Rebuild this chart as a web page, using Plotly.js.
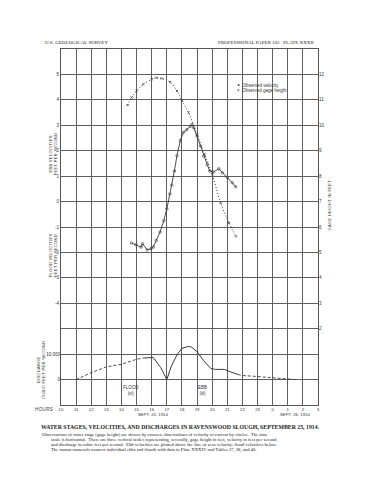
<!DOCTYPE html>
<html>
<head>
<meta charset="utf-8">
<script src="https://cdn.plot.ly/plotly-3.0.1.min.js"></script>
<style>html,body{margin:0;padding:0;background:#fff;}#chart{width:385px;height:500px;}</style>
</head>
<body>
<div id="chart"></div>
<script>
// ---- data (read from the plate) ----
const hourTicks = [10,11,12,13,14,15,16,17,18,19,20,21,22,23,24,25,26,27];
const hourLabels = ['10','11','12','13','14','15','16','17','18','19','20','21','22','23','0','1','2','3'];

// gage height, feet (crosses, dotted)
const gageHours = [14.4, 14.67, 15.0, 15.44, 16.0, 16.33, 16.67, 17.22, 17.67, 18.0, 18.44, 19.0, 19.5, 20.0, 20.56, 21.11, 21.58];
const gageFeet  = [10.79, 11.09, 11.35, 11.61, 11.81, 11.87, 11.84, 11.70, 11.35, 10.96, 10.5, 9.64, 8.85, 8.07, 6.95, 6.16, 5.63];

// velocity, feet per second (circles; ebb +, flood -)
const velHours = [14.67, 14.95, 15.3, 15.4, 15.7, 15.95, 16.1, 16.3, 16.55, 16.8, 17.0, 17.2, 17.33, 17.5, 17.67, 17.89, 18.11, 18.33, 18.56, 18.67, 18.78, 19.0, 19.22, 19.44, 19.67, 19.84, 20.07, 20.44, 20.67, 21.0, 21.33, 21.56];
const velFps   = [-1.63, -1.70, -1.79, -1.66, -1.90, -1.85, -1.79, -1.53, -1.2, -0.75, -0.29, 0.3, 0.65, 1.2, 1.8, 2.4, 2.73, 2.83, 2.96, 3.03, 2.90, 2.57, 2.18, 1.79, 1.46, 1.2, 1.16, 1.29, 1.13, 0.94, 0.74, 0.58];

// discharge, cubic feet per second
const dischargeEarlyHours = [11, 12, 13, 14, 15, 15.5];
const dischargeEarly      = [0, 2700, 5000, 6000, 8000, 8500];
const dischargeMainHours  = [15.5, 16.0, 16.1, 16.6, 17.0, 17.3, 17.7, 18.0, 18.45, 18.65, 19.0, 19.45, 19.9, 20.2, 20.8, 21.2, 21.7];
const dischargeMain       = [8500, 8670, 8670, 4670, 0, 5300, 10000, 12270, 13070, 12670, 10930, 7330, 4400, 4000, 4000, 3070, 2000];
const dischargeLateHours  = [21.7, 22, 23, 24, 25, 25.5];
const dischargeLate       = [2000, 1600, 1200, 670, 270, 0];

const velTickVals = [-8,-7,-6,-5,-4,-3,-2,-1,0,1,2,3,4,5,6];
const velTickText = ['','','','','-4','-3','-2','-1','0','1','2','3','4','5',''];
const gageTickVals = [2,3,4,5,6,7,8,9,10,11,12];

// ---- layout helpers ----
const L=61, R=318, T=49, B=405;
const px = x => (x-L)/(R-L);
const py = y => (B-y)/(B-T);
const INK = '#3a3a3a';
const SANS = 'Liberation Sans, Arial, sans-serif';
const SERIF = 'Liberation Serif, Times New Roman, serif';
const sp = s => s.split('').join('\u200A');

const traces = [
  {x: dischargeEarlyHours, y: dischargeEarly, yaxis:'y3', mode:'lines', line:{color:INK, width:0.9, dash:'3px,2px'}, hoverinfo:'skip'},
  {x: dischargeMainHours, y: dischargeMain, yaxis:'y3', mode:'lines', line:{color:INK, width:1}, hoverinfo:'skip'},
  {x: dischargeLateHours, y: dischargeLate, yaxis:'y3', mode:'lines', line:{color:INK, width:0.9, dash:'3px,2px'}, hoverinfo:'skip'},
  {x: gageHours, y: gageFeet, yaxis:'y2', mode:'lines+markers', line:{color:INK, width:1, dash:'1px,2px', shape:'spline'}, marker:{symbol:'x-thin-open', size:2.2, color:INK, line:{width:0.7, color:INK}}},
  {x: velHours, y: velFps, yaxis:'y', mode:'lines+markers', line:{color:INK, width:0.9}, marker:{symbol:'circle-open', size:2.5, color:INK, line:{width:0.6, color:INK}}}
];

const ann = [];
function A(text, x, y, o){ ann.push(Object.assign({text, x:px(x), y:py(y), xref:'paper', yref:'paper', xanchor:'center', yanchor:'middle', showarrow:false, font:{family:SANS, size:4.5, color:'#333'}}, o||{})); }

A('U.S. GEOLOGICAL SURVEY', 43, 42, {xanchor:'left', font:{family:SERIF, size:5, color:'#222'}});
A('PROFESSIONAL PAPER 105&nbsp;&nbsp;&nbsp;PLATE XXXII', 316, 42, {xanchor:'right', font:{family:SERIF, size:5, color:'#222'}});

A(sp('EBB VELOCITIES')+'<br>'+sp('FEET PER SECOND'), 53.3, 154, {textangle:-90, font:{family:SANS, size:4, color:'#333'}});
A(sp('FLOOD VELOCITIES')+'<br>'+sp('FEET PER SECOND'), 53.3, 255, {textangle:-90, font:{family:SANS, size:4, color:'#333'}});
A(sp('DISCHARGE')+'<br>'+sp('CUBIC FEET PER SECOND'), 41, 370, {textangle:-90, font:{family:SANS, size:4, color:'#333'}});
A(sp('GAGE HEIGHT IN FEET'), 328.5, 205, {textangle:-90, font:{family:SANS, size:4, color:'#333'}});

A('\u2218&nbsp;&nbsp;Observed velocity', 235, 85, {xanchor:'left', font:{family:SANS, size:4.5, color:'#333'}});
A('\u00D7&nbsp;&nbsp;Observed gage height', 235, 91, {xanchor:'left', font:{family:SANS, size:4.5, color:'#333'}});

A('FLOOD<br>(vi)', 131, 390, {font:{family:SANS, size:4.5, color:'#333'}});
A('EBB<br>(iii)', 202, 390, {font:{family:SANS, size:4.5, color:'#333'}});

A(sp('HOURS'), 44, 409.5, {font:{family:SANS, size:4.5, color:'#333'}});
A('SEPT. 25, 1914', 153, 414.5, {font:{family:SANS, size:4.3, color:'#333'}});
A('SEPT. 26, 1914', 295, 414.5, {font:{family:SANS, size:4.3, color:'#333'}});

A('<b>WATER STAGES, VELOCITIES, AND DISCHARGES IN RAVENSWOOD SLOUGH, SEPTEMBER 25, 1914.</b>', 180.5, 427, {font:{family:SERIF, size:5.8, color:'#222'}});
const cap = [
  ['Observations of water stage (gage height) are shown by crosses; observations of velocity of current by circles.  The time', 40],
  ['scale is horizontal.  There are three vertical scales representing, severally, gage height in feet, velocity in feet per second,', 49],
  ['and discharge in cubic feet per second.  Ebb velocities are plotted above the line of zero velocity; flood velocities below.', 49],
  ['The roman numerals connect individual ebbs and floods with data in Plate XXXIV and Tables 37, 38, and 40.', 49]
];
cap.forEach((c,i)=> A(c[0], c[1], 434.8 + i*4.9, {xanchor:'left', font:{family:SERIF, size:4.7, color:'#222'}}));

const layout = {
  width:385, height:500,
  margin:{l:L, r:385-R, t:T, b:500-B, pad:0},
  paper_bgcolor:'#fff', plot_bgcolor:'#fff',
  showlegend:false,
  xaxis:{range:[10,27], tickmode:'array', tickvals:hourTicks, ticktext:hourLabels, showgrid:true, gridcolor:'#5e5e5e', gridwidth:1,
         showline:true, mirror:true, linecolor:'#555', linewidth:1, zeroline:false, ticks:'', ticklabelstandoff:0, tickfont:{family:SANS, size:4.3, color:'#333'}, fixedrange:true},
  yaxis:{range:[-8,6], tickmode:'array', tickvals:velTickVals, ticktext:velTickText, showgrid:true, gridcolor:'#5e5e5e', gridwidth:1,
         showline:true, mirror:true, linecolor:'#555', linewidth:1, zeroline:false, ticks:'', tickfont:{family:SANS, size:4.5, color:'#333'}},
  yaxis2:{range:[-1,13], overlaying:'y', side:'right', tickmode:'array', tickvals:gageTickVals, showgrid:false, zeroline:false, ticks:'',
          tickfont:{family:SANS, size:4.5, color:'#333'}},
  yaxis3:{range:[-10000,130000], overlaying:'y', side:'left', tickmode:'array', tickvals:[0,10000], ticktext:['0','10,000'], showgrid:false, zeroline:false, ticks:'',
          tickfont:{family:SANS, size:4.5, color:'#333'}},
  annotations:ann
};

Plotly.newPlot('chart', traces, layout, {displayModeBar:false, staticPlot:true});
</script>
</body>
</html>
